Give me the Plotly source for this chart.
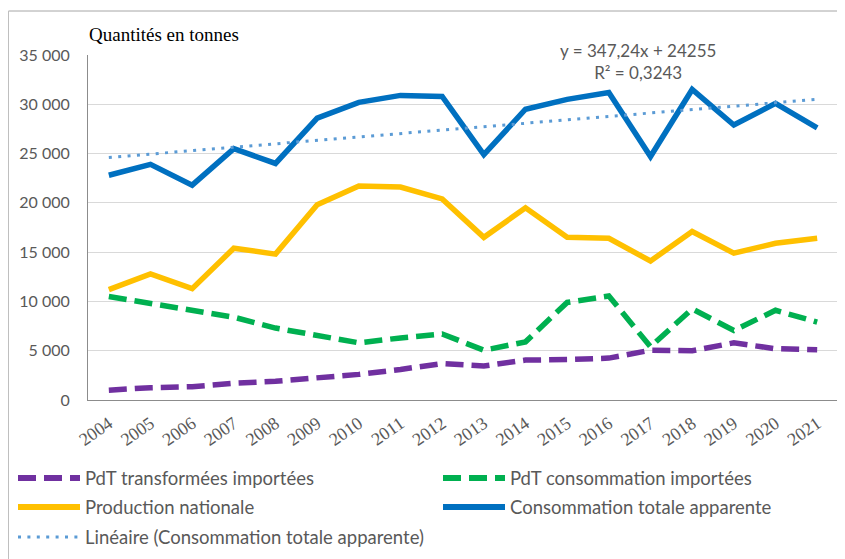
import plotly.graph_objects as go

years = [str(y) for y in range(2004, 2022)]
pdt_transformees = [1000, 1250, 1350, 1700, 1900, 2200, 2600, 3100, 3700, 3450, 4050, 4100, 4250, 5050, 5000, 5800, 5200, 5100]
pdt_consommation = [10500, 9800, 9100, 8400, 7300, 6600, 5800, 6300, 6700, 5050, 5900, 9900, 10550, 5400, 9250, 7050, 9100, 7900]
production = [11200, 12800, 11300, 15400, 14800, 19800, 21700, 21600, 20400, 16500, 19500, 16500, 16400, 14100, 17100, 14900, 15900, 16400]
conso_totale = [22800, 23900, 21800, 25500, 24000, 28600, 30200, 30900, 30800, 24900, 29500, 30500, 31200, 24700, 31500, 27900, 30100, 27600]
trend_slope = 347.24
trend_intercept = 24255
trend = [trend_intercept + trend_slope * (i + 1) for i in range(len(years))]

names = ["PdT transformées importées", "PdT consommation importées", "Production nationale",
         "Consommation totale apparente", "Linéaire (Consommation totale apparente)"]
colors = ["#7030A0", "#00B050", "#FFC000", "#0070C0", "#5B9BD5"]
DASH = "18px,8px"
DOT = "3px,6.4px"
dashes = [DASH, DASH, "solid", "solid", DOT]
widths = [5.5, 5.5, 5.5, 5.5, 3]
series = [pdt_transformees, pdt_consommation, production, conso_totale, trend]

fig = go.Figure()
for nm, ys, c, d, w in zip(names, series, colors, dashes, widths):
    fig.add_trace(go.Scatter(x=years, y=ys, name=nm, mode="lines",
                             line=dict(color=c, width=w, dash=d), showlegend=False))

# page offset of the figure inside the browser body (default 8px margin)
OX, OY = 8, 8
W, H = 845 - OX, 559 - OY
L, T, PW, PH = 88 - OX, 55 - OY, 750, 345


def px(x):  # page x -> paper
    return (x - OX - L) / PW


def py(y):  # page y -> paper
    return (T + PH - (y - OY)) / PH


shapes = [
    dict(type="line", xref="paper", yref="paper", x0=px(8.5), x1=px(846), y0=py(11), y1=py(11),
         line=dict(color="#a6a6a6", width=1)),
    dict(type="line", xref="paper", yref="paper", x0=px(8.5), x1=px(8.5), y0=py(11), y1=py(570),
         line=dict(color="#bfbfbf", width=1)),
]
annotations = [
    dict(text="Quantités en tonnes", xref="paper", yref="paper", x=px(87), y=py(35),
         xanchor="left", yanchor="middle", showarrow=False,
         font=dict(family="Liberation Serif, serif", size=19, color="black")),
    dict(text="y = 347,24x + 24255<br>R² = 0,3243", xref="paper", yref="paper",
         x=px(638), y=py(61.5), xanchor="center", yanchor="middle", showarrow=False,
         font=dict(family="Lato, sans-serif", size=17, color="#595959")),
]

# legend (two columns, Excel-style long symbols)
legend_pos = [(18, 478), (443, 478), (18, 507), (443, 507), (18, 537)]
for nm, c, d, w, (lx, ly) in zip(names, colors, dashes, widths, legend_pos):
    shapes.append(dict(type="line", xref="paper", yref="paper", x0=px(lx), x1=px(lx + 62),
                       y0=py(ly), y1=py(ly),
                       line=dict(color=c, width=6 if w > 4 else 3, dash=d)))
    annotations.append(dict(text=nm, xref="paper", yref="paper", x=px(lx + 65), y=py(ly),
                            xanchor="left", yanchor="middle", showarrow=False,
                            font=dict(family="Lato, sans-serif", size=18.5, color="#595959")))

fig.update_layout(
    width=W, height=H,
    margin=dict(l=L, r=W - L - PW, t=T, b=H - T - PH, autoexpand=False),
    paper_bgcolor="white", plot_bgcolor="white",
    separators=", ",
    showlegend=False,
    xaxis=dict(type="category", range=[-0.5, len(years) - 0.5], tickangle=-35, showgrid=False,
               showline=True, linecolor="#8c8c8c", linewidth=1, ticks="", automargin=False,
               ticklabelstandoff=5,
               tickfont=dict(family="Liberation Serif", size=18, color="#595959")),
    yaxis=dict(range=[0, 35000], dtick=5000, tickformat=",d", showgrid=True,
               gridcolor="#d9d9d9", gridwidth=1, showline=True, linecolor="#8c8c8c",
               linewidth=1, ticks="", zeroline=False, automargin=False,
               ticklabelstandoff=14,
               tickfont=dict(family="Lato, sans-serif", size=16, color="#595959")),
    shapes=shapes,
    annotations=annotations,
)

fig.write_html("out.html")
